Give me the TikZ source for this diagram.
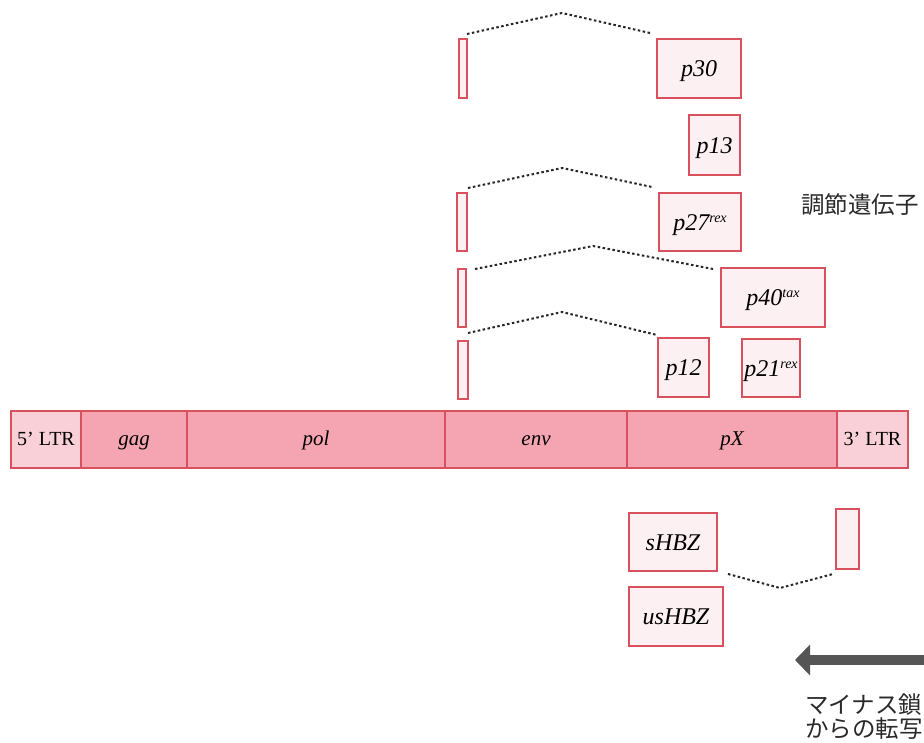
\documentclass[tikz,border=0pt]{standalone}
\usepackage{fontspec}
\setmainfont{Liberation Serif}
\newfontfamily\cjk{Noto Sans CJK JP}
\usetikzlibrary{calc,arrows.meta}
\definecolor{bord}{HTML}{D9505F}
\definecolor{segdark}{HTML}{F5A5B2}
\definecolor{seglight}{HTML}{FAD0D8}
\definecolor{pale}{HTML}{FDF0F2}
\definecolor{arrgray}{HTML}{555555}
\definecolor{txtgray}{HTML}{2A2A2A}
\newcommand{\supx}[1]{\raisebox{8pt}{\fontsize{14}{14}\selectfont #1}}
\begin{document}
\begin{tikzpicture}[x=1pt,y=-1pt,
  boxbase/.style={draw=bord, line width=1.1pt, anchor=north west, inner sep=0pt, outer sep=0pt},
  seg/.style={boxbase, fill=segdark, text height=14pt, text depth=3pt, font=\fontsize{21}{24}\selectfont\itshape},
  ltr/.style={boxbase, fill=seglight, text height=14pt, text depth=3pt, font=\fontsize{20}{24}\selectfont},
  prot/.style={boxbase, fill=pale, text height=16.5pt, text depth=0pt, font=\fontsize{24}{28}\selectfont\itshape},
  exon/.style={boxbase, fill=pale},
  splice/.style={draw=black!85, line width=2pt, dash pattern=on 2.5pt off 2.5pt},
  jp/.style={anchor=west, inner sep=0pt, text=txtgray, font=\cjk\fontsize{23.5}{24}\selectfont}]
\useasboundingbox (0,0) rectangle (924,743);
\clip (0,0) rectangle (924,743);
\fill[white] (0,0) rectangle (924,743);
% genome bar
\node[ltr, minimum width=70pt, minimum height=57pt] (ltr5) at (11,411) {5’ LTR};
\node[seg, minimum width=106pt, minimum height=57pt] (gag) at (81,411) {gag};
\node[seg, minimum width=258pt, minimum height=57pt] (pol) at (187,411) {pol};
\node[seg, minimum width=182pt, minimum height=57pt] (env) at (445,411) {env};
\node[seg, minimum width=210pt, minimum height=57pt] (pX) at (627,411) {pX};
\node[ltr, minimum width=71pt, minimum height=57pt] (ltr3) at (837,411) {3’ LTR};
% exons
\node[exon, minimum width=8pt, minimum height=59pt] (e1) at (459,39) {};
\node[exon, minimum width=10pt, minimum height=58pt] (e2) at (457,193) {};
\node[exon, minimum width=8pt, minimum height=58pt] (e3) at (458,269) {};
\node[exon, minimum width=10pt, minimum height=58pt] (e4) at (458,341) {};
\node[exon, minimum width=23pt, minimum height=60pt] (e5) at (836,509) {};
% proteins
\node[prot, minimum width=84pt, minimum height=59pt] (p30) at (657,39) {p30};
\node[prot, minimum width=51pt, minimum height=60pt] (p13) at (689,115) {p13};
\node[prot, minimum width=82pt, minimum height=58pt] (p27) at (659,193) {p27\supx{rex}};
\node[prot, minimum width=104pt, minimum height=59pt] (p40) at (721,268) {p40\supx{tax}};
\node[prot, minimum width=51pt, minimum height=59pt] (p12) at (658,338) {p12};
\node[prot, minimum width=58pt, minimum height=58pt] (p21) at (742,339) {p21\supx{rex}};
\node[prot, minimum width=88pt, minimum height=58pt] (sHBZ) at (629,513) {sHBZ};
\node[prot, minimum width=94pt, minimum height=59pt] (usHBZ) at (629,587) {usHBZ};
% splice lines
\coordinate (k1) at (562,13);
\coordinate (k2) at (562,168);
\coordinate (k3) at (593,246);
\coordinate (k4) at (562,312);
\coordinate (k5) at (780,588);
\draw[splice] ($(e1.north east)+(0,-5)$) -- (k1) -- ($(p30.north west)+(-7,-6)$);
\draw[splice] ($(e2.north east)+(1,-5)$) -- (k2) -- ($(p27.north west)+(-7,-6)$);
\draw[splice] ($(e3.north east)+(9,0)$) -- (k3) -- ($(p40.north west)+(-8,1)$);
\draw[splice] ($(e4.north east)+(0,-8)$) -- (k4) -- ($(p12.north west)+(-1,-3)$);
\draw[splice] ($(sHBZ.south east)+(11,3)$) -- (k5) -- ($(e5.south west)+(-3,5)$);
% arrow
\coordinate (arS) at (940,660);
\coordinate (arE) at (795,660);
\draw[arrgray, line width=10pt, -{Triangle[length=15pt,width=30pt]}] (arS) -- (arE);
% labels
\node[jp] (reg) at (801,205) {調節遺伝子};
\node[jp] (minus1) at (805,705) {マイナス鎖};
\node[jp] (minus2) at (805,729) {からの転写};
\end{tikzpicture}
\end{document}
